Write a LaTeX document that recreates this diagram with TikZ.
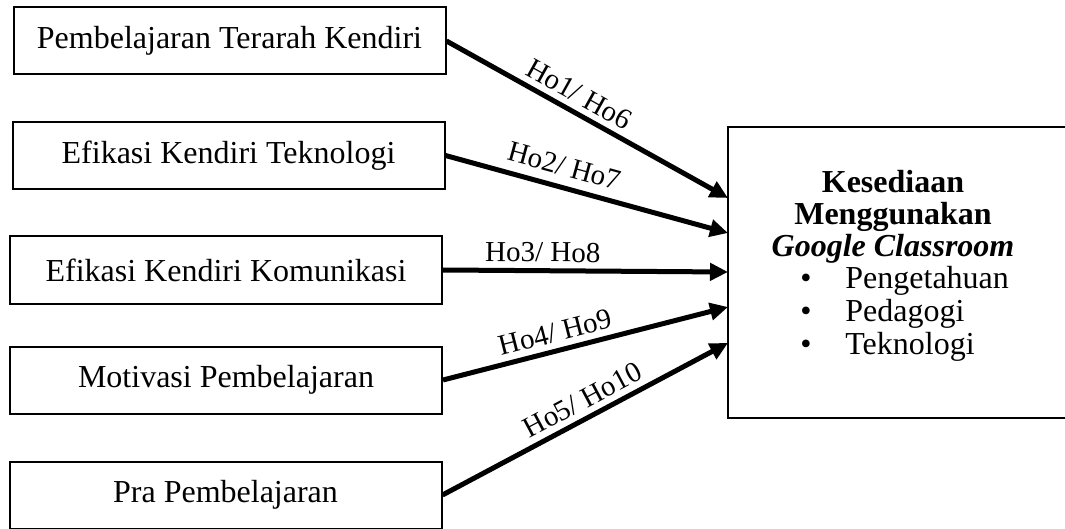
\documentclass[tikz,border=0pt]{standalone}
\usepackage{fontspec}
\setmainfont{Liberation Serif}
\usetikzlibrary{arrows.meta}

\begin{document}
\begin{tikzpicture}[x=0.5pt,y=-0.5pt]
\tikzstyle{every node}=[inner sep=0pt];
\tikzstyle{varbox}=[draw,line width=1pt,minimum width=216pt,minimum height=33.5pt,font=\fontsize{16}{19}\selectfont];
\tikzstyle{hyp}=[-{Triangle[length=9pt,width=8.5pt]},line width=2.5pt];
\tikzstyle{hlabel}=[sloped,above=3pt,font=\fontsize{14.5}{17}\selectfont];
\useasboundingbox (0,0) rectangle (1065,529);
% variables on the left
\node[varbox] (ptk) at (229.5,41) {Pembelajaran Terarah Kendiri};
\node[varbox] (ekt) at (228.5,155.5) {Efikasi Kendiri Teknologi};
\node[varbox] (ekk) at (226,270) {Efikasi Kendiri Komunikasi};
\node[varbox] (mp) at (226,380) {Motivasi Pembelajaran};
\node[varbox] (pp) at (225.5,495) {Pra Pembelajaran};
% dependent variable (right edge runs off the page)
\node[draw,line width=1pt,minimum width=176pt,minimum height=145.5pt] (kgc) at (904,272.5) {};
\node[align=center,font=\fontsize{16}{16}\selectfont] (kgctitle) at (893,217)
  {\textbf{Kesediaan}\\ \textbf{Menggunakan}\\ \textbf{\textit{Google Classroom}}};
\node[anchor=west,align=left,font=\fontsize{16}{16.5}\selectfont] (kgclist) at (800,314)
  {\makebox[22.5pt][l]{\textbullet}Pengetahuan\\
   \makebox[22.5pt][l]{\textbullet}Pedagogi\\
   \makebox[22.5pt][l]{\textbullet}Teknologi};
\coordinate (in1) at (728,198);
\coordinate (in2) at (728,233);
\coordinate (in3) at (728,272);
\coordinate (in4) at (728,307);
\coordinate (in5) at (728,343);
% hypotheses
\draw[hyp] (ptk.east) -- node[hlabel,pos=0.44] {Ho1/ Ho6} (in1);
\draw[hyp] (ekt.east) -- node[hlabel,pos=0.40,above=1.5pt] {Ho2/ Ho7} (in2);
\draw[hyp] (ekk.east) -- node[hlabel,pos=0.35] {Ho3/ Ho8} (in3);
\draw[hyp] (mp.east) -- node[hlabel,pos=0.41,above=0pt] {Ho4/ Ho9} (in4);
\draw[hyp] (pp.east) -- node[hlabel,pos=0.52] {Ho5/ Ho10} (in5);
\end{tikzpicture}
\end{document}
